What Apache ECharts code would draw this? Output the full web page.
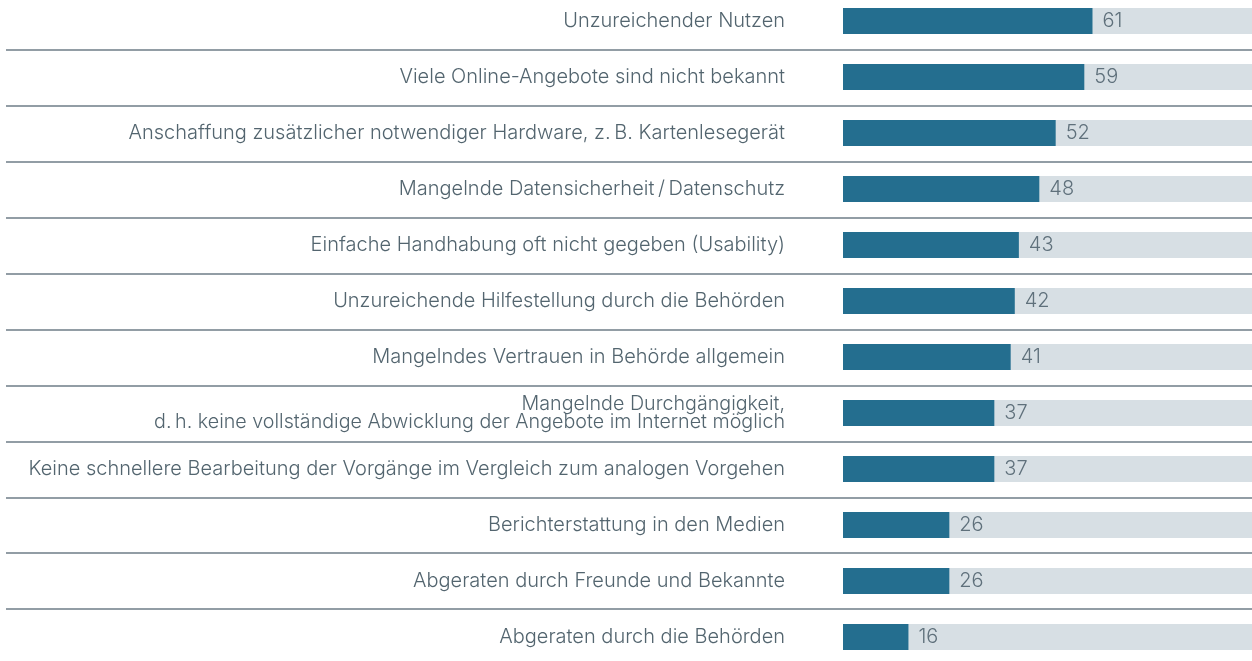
<!DOCTYPE html>
<html>
<head>
<meta charset="utf-8">
<script src="https://cdn.jsdelivr.net/npm/echarts@6/dist/echarts.min.js"></script>
<style>
  html, body { margin: 0; padding: 0; background: #ffffff; overflow: hidden; width: 1252px; height: 661px; }
  /* rows are 56px tall; the first one starts slightly above the visible area */
  #chart { position: absolute; left: 0; top: -7px; width: 1252px; height: 672px; }
</style>
</head>
<body>
<div id="chart"></div>
<script>
// Hindernisse bei der Nutzung von Online-Angeboten der Verwaltung (Angaben in Prozent)
const categories = [
  'Unzureichender Nutzen',
  'Viele Online-Angebote sind nicht bekannt',
  'Anschaffung zusätzlicher notwendiger Hardware, z.\u2009B. Kartenlesegerät',
  'Mangelnde Datensicherheit\u2009/\u2009Datenschutz',
  'Einfache Handhabung oft nicht gegeben (Usability)',
  'Unzureichende Hilfestellung durch die Behörden',
  'Mangelndes Vertrauen in Behörde allgemein',
  'Mangelnde Durchgängigkeit,\nd.\u2009h. keine vollständige Abwicklung der Angebote im Internet möglich',
  'Keine schnellere Bearbeitung der Vorgänge im Vergleich zum analogen Vorgehen',
  'Berichterstattung in den Medien',
  'Abgeraten durch Freunde und Bekannte',
  'Abgeraten durch die Behörden'
];
const values = [61, 59, 52, 48, 43, 42, 41, 37, 37, 26, 26, 16];
const scaleMax = 100;

const FONT = 'Inter';
const chart = echarts.init(document.getElementById('chart'), null, { renderer: 'canvas' });

chart.setOption({
  animation: false,
  backgroundColor: '#ffffff',
  grid: [
    { left: 843, right: 0, top: 0, height: 672, containLabel: false },
    { left: 6, right: 0, top: 1, height: 672, containLabel: false }
  ],
  xAxis: [
    { gridIndex: 0, type: 'value', min: 0, max: scaleMax, show: false },
    { gridIndex: 1, type: 'value', min: 0, max: scaleMax, show: false }
  ],
  yAxis: [
    {
      gridIndex: 0,
      type: 'category',
      inverse: true,
      data: categories,
      axisLine: { show: false },
      axisTick: { show: false },
      splitLine: { show: false },
      axisLabel: {
        margin: 58,
        fontFamily: FONT,
        fontWeight: 300,
        fontSize: 20,
        color: '#53656f',
        align: 'right',
        // two-line labels are set a little smaller and tighter
        formatter: (v) => v.indexOf('\n') >= 0
          ? v.split('\n').map((s) => '{s|' + s + '}').join('\n')
          : v,
        rich: {
          s: {
            fontFamily: FONT,
            fontWeight: 300,
            fontSize: 19.7,
            lineHeight: 18.5,
            color: '#53656f',
            align: 'right'
          }
        }
      }
    },
    {
      gridIndex: 1,
      type: 'category',
      inverse: true,
      data: categories,
      axisLine: { show: false },
      axisTick: { show: false },
      axisLabel: { show: false },
      splitLine: { show: true, lineStyle: { color: '#6e7d87', width: 1.5 } }
    }
  ],
  series: [
    {
      type: 'bar',
      xAxisIndex: 0,
      yAxisIndex: 0,
      data: values,
      barWidth: 26,
      itemStyle: { color: '#246e8f' },
      showBackground: true,
      backgroundStyle: { color: '#d7dfe4' },
      label: {
        show: true,
        position: 'right',
        distance: 10,
        fontFamily: FONT,
        fontWeight: 300,
        fontSize: 20,
        color: '#5f707b'
      }
    },
    {
      type: 'bar',
      xAxisIndex: 1,
      yAxisIndex: 1,
      data: [],
      silent: true
    }
  ]
});
</script>
</body>
</html>
